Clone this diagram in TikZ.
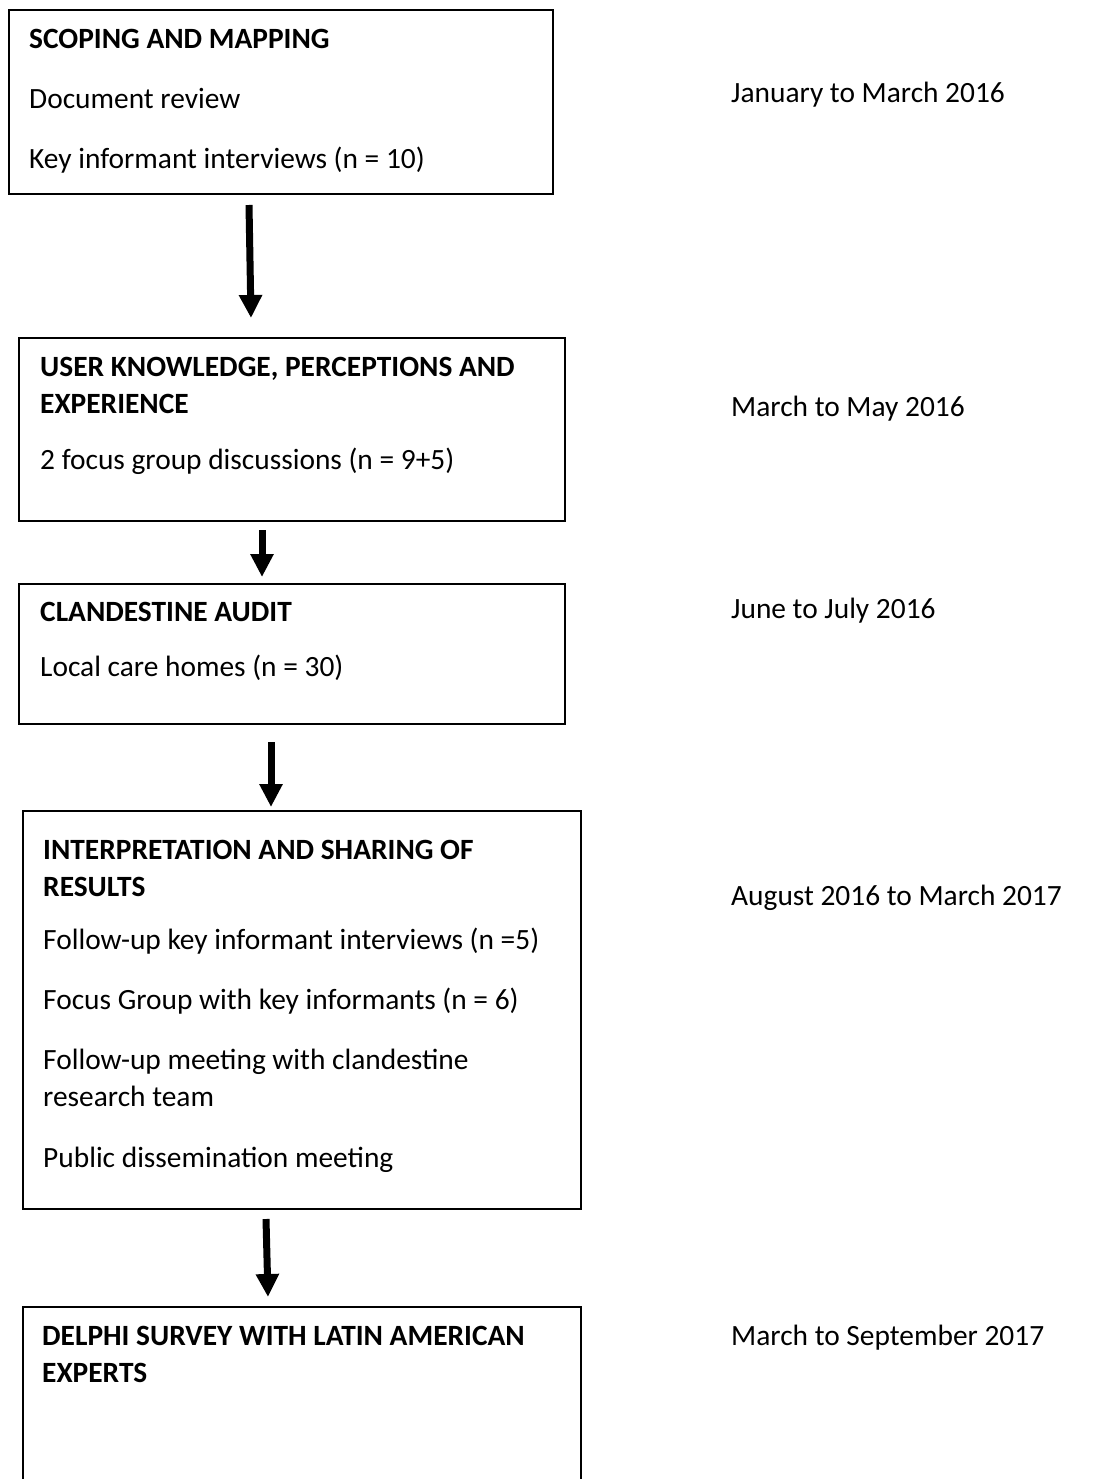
\documentclass[tikz,border=0pt]{standalone}
\usepackage{fontspec}
\setmainfont{Carlito}
\usetikzlibrary{arrows.meta, positioning}

\begin{document}
\begin{tikzpicture}[x=1pt, y=-1pt,
		stagebox/.style={draw=black, line width=2pt, anchor=north west, inner sep=0pt},
		stagetext/.style={anchor=base west, align=flush left, inner sep=0pt, text width=530pt, font=\fontsize{29.4}{37}\selectfont},
		datetext/.style={anchor=base west, inner sep=0pt, font=\fontsize{29.4}{37}\selectfont},
		flow/.style={line width=7pt, -{Triangle[width=22pt, length=23pt]}}]
		\useasboundingbox (0,0) rectangle (1095,1479);
		
		% Draw the stage boxes
		\node[stagebox, minimum width=544pt, minimum height=184pt] (scoping) at (8,9) {};
		\node[stagebox, minimum width=546pt, minimum height=183pt] (user) at (18,337) {};
		\node[stagebox, minimum width=546pt, minimum height=140pt] (audit) at (18,583) {};
		\node[stagebox, minimum width=558pt, minimum height=398pt] (sharing) at (22,810) {};
		\node[stagebox, minimum width=558pt, minimum height=200pt] (delphi) at (22,1306) {};
		
		% Texts in the boxes
		\node[stagetext] (scopingtxt) at ([shift={(21,40)}]scoping.north west)
			{\textbf{SCOPING AND MAPPING}\\[23pt]Document review\\[23pt]Key informant interviews (n = 10)};
		\node[stagetext] (usertxt) at ([shift={(22,39)}]user.north west)
			{\textbf{USER KNOWLEDGE, PERCEPTIONS AND}\\\textbf{EXPERIENCE}\\[19pt]2 focus group discussions (n = 9+5)};
		\node[stagetext] (audittxt) at ([shift={(22,38)}]audit.north west)
			{\textbf{CLANDESTINE AUDIT}\\[18pt]Local care homes (n = 30)};
		\node[stagetext] (sharingtxt) at ([shift={(21,49)}]sharing.north west)
			{\textbf{INTERPRETATION AND SHARING OF}\\\textbf{RESULTS}\\[16pt]Follow-up key informant interviews (n =5)\\[23pt]Focus Group with key informants (n = 6)\\[23pt]Follow-up meeting with clandestine\\research team\\[24pt]Public dissemination meeting};
		\node[stagetext] (delphitxt) at ([shift={(20,39)}]delphi.north west)
			{\textbf{DELPHI SURVEY WITH LATIN AMERICAN}\\\textbf{EXPERTS}};
		
		% Dates on the right
		\node[datetext] (scopingdate) at (731,103) {January to March 2016};
		\node[datetext] (userdate) at (731,416) {March to May 2016};
		\node[datetext] (auditdate) at (731,618) {June to July 2016};
		\node[datetext] (sharingdate) at (731,905) {August 2016 to March 2017};
		\node[datetext] (delphidate) at (731,1345) {March to September 2017};
		
		% Draw the arrows between the stages
		\draw[flow] ([shift={(241,10)}]scoping.south west) -- ([shift={(233,-19)}]user.north west);
		\draw[flow] ([shift={(244,8)}]user.south west) -- ([shift={(244,-6)}]audit.north west);
		\draw[flow] ([shift={(253,17)}]audit.south west) -- ([shift={(249,-3)}]sharing.north west);
		\draw[flow] ([shift={(244,9)}]sharing.south west) -- ([shift={(246,-9)}]delphi.north west);
\end{tikzpicture}
\end{document}
